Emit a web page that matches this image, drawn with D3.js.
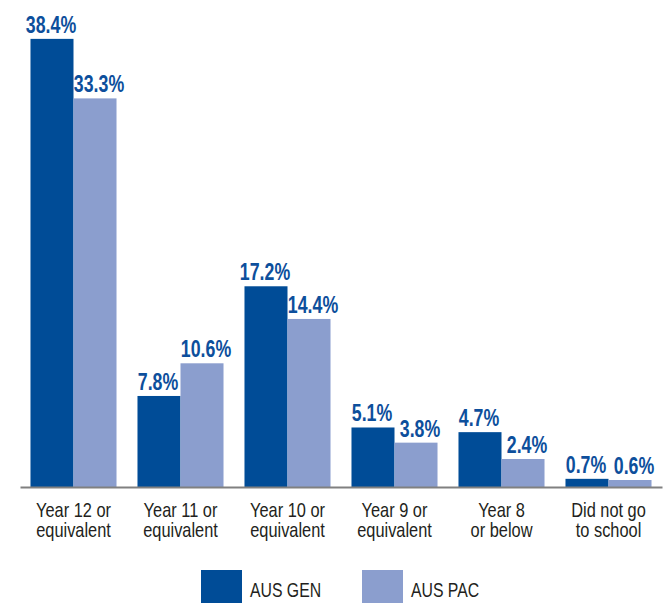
<!DOCTYPE html>
<html>
<head>
<meta charset="utf-8">
<script src="https://cdn.jsdelivr.net/npm/d3@7"></script>
<style>
  html, body { margin: 0; padding: 0; background: #fff; }
  svg { display: block; }
</style>
</head>
<body>
<svg id="chart" width="669" height="603"></svg>
<script>
const categories = [
  ["Year 12 or", "equivalent"],
  ["Year 11 or", "equivalent"],
  ["Year 10 or", "equivalent"],
  ["Year 9 or", "equivalent"],
  ["Year 8", "or below"],
  ["Did not go", "to school"]
];
const seriesNames = ["AUS GEN", "AUS PAC"];
const ausGen = [38.4, 7.8, 17.2, 5.1, 4.7, 0.7];
const ausPac = [33.3, 10.6, 14.4, 3.8, 2.4, 0.6];
const colors = ["#004C97", "#8B9ECE"];

const svg = d3.select("#chart");
const font = "'Liberation Sans', Arial, sans-serif";
const squeeze = 0.82;
const valueSqueeze = 0.74;
const labelShift = [-1, 4];

const x0 = d3.scaleBand()
  .domain(d3.range(categories.length))
  .range([20, 662])
  .paddingInner(0.196)
  .paddingOuter(0.098);
const x1 = d3.scaleBand()
  .domain([0, 1])
  .range([0, x0.bandwidth()]);
const y = d3.scaleLinear().domain([0, 40]).range([487, 487 - 40 * 11.67]);

const series = [ausGen, ausPac];

const groups = svg.append("g").selectAll("g")
  .data(categories.map((c, i) => i))
  .join("g")
  .attr("transform", i => `translate(${x0(i)},0)`);

groups.selectAll("rect")
  .data(i => series.map((s, k) => ({k, v: s[i]})))
  .join("rect")
  .attr("x", d => x1(d.k))
  .attr("width", x1.bandwidth())
  .attr("y", d => y(d.v))
  .attr("height", d => y(0) - y(d.v))
  .attr("fill", d => colors[d.k]);

groups.selectAll("text.val")
  .data(i => series.map((s, k) => ({k, v: s[i]})))
  .join("text")
  .attr("class", "val")
  .attr("transform", d => `translate(${x1(d.k) + x1.bandwidth() / 2 + labelShift[d.k]},${y(d.v) - 6}) scale(${valueSqueeze},1)`)
  .attr("text-anchor", "middle")
  .attr("font-family", font)
  .attr("font-weight", "bold")
  .attr("font-size", 24)
  .attr("fill", "#0D4F9C")
  .text(d => d.v.toFixed(1) + "%");

// baseline axis
const xAxis = d3.axisBottom(x0).tickSize(0).tickFormat("");
const axisG = svg.append("g").attr("transform", `translate(0,${y(0)})`).call(xAxis);
axisG.select(".domain").attr("stroke", "#808080").attr("stroke-width", 2);

// category labels
groups.append("text")
  .attr("transform", `translate(${x0.bandwidth() / 2},0) scale(${squeeze},1)`)
  .attr("text-anchor", "middle")
  .attr("font-family", font)
  .attr("font-size", 20)
  .attr("fill", "#231F20")
  .selectAll("tspan")
  .data(i => categories[i])
  .join("tspan")
  .attr("x", 0)
  .attr("y", (d, j) => 517 + j * 20)
  .text(d => d);

// legend
const legendX = [201, 362];
const legend = svg.append("g").selectAll("g")
  .data(seriesNames)
  .join("g")
  .attr("transform", (d, i) => `translate(${legendX[i]},570)`);
legend.append("rect")
  .attr("width", 41).attr("height", 36)
  .attr("fill", (d, i) => colors[i]);
legend.append("text")
  .attr("transform", `translate(49,27) scale(0.79,1)`)
  .attr("font-family", font)
  .attr("font-size", 20)
  .attr("fill", "#231F20")
  .text(d => d);
</script>
</body>
</html>
